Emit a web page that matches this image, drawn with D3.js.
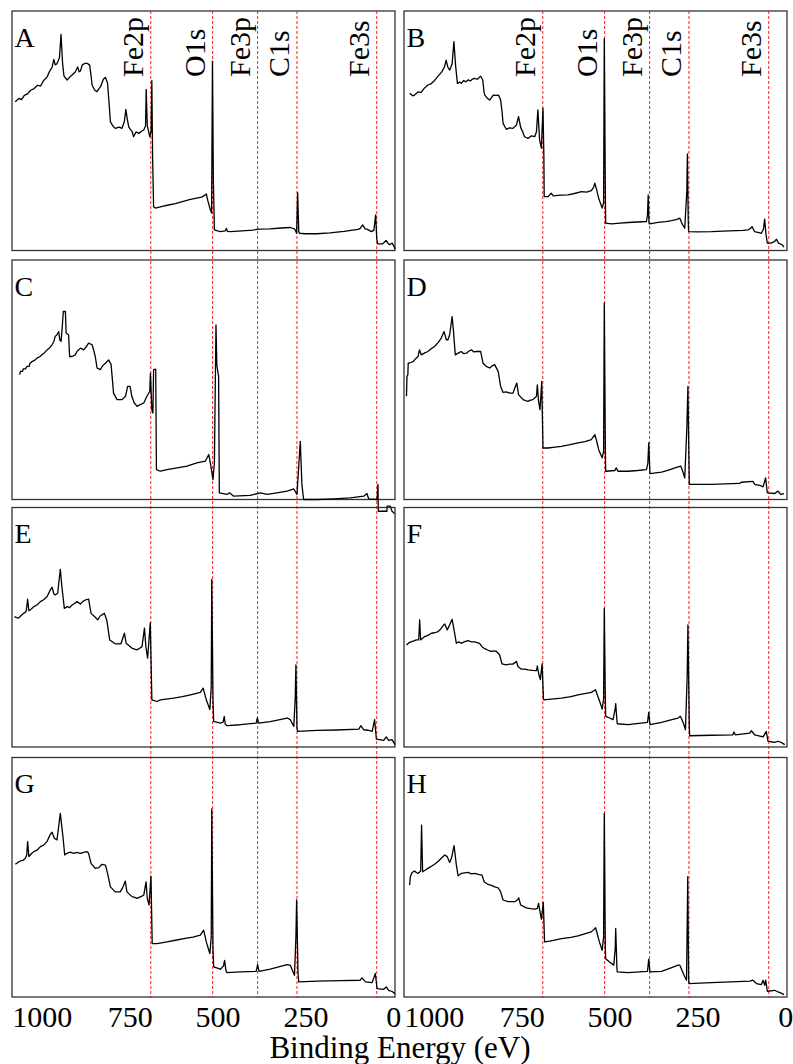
<!DOCTYPE html>
<html lang="en">
<head>
<meta charset="utf-8">
<title>XPS survey spectra A-H</title>
<style>
body{
  margin: 0;
  background: #fff;
}
svg text{
  font-family: "Liberation Serif", "Times New Roman", serif;
  fill: #000;
}
.frame{
  fill: none;
  stroke: #333;
  stroke-width: 1.3;
}
.spec{
  fill: none;
  stroke: #000;
  stroke-width: 1.3;
  stroke-linejoin: round;
}
.ref{
  stroke: #ff1a1a;
  stroke-width: 1;
  stroke-dasharray: 3,2;
}
.axis path, .axis line{
  display: none;
}
.axis text{
  font-size: 30px;
}
</style>
</head>
<body>
<div id="chart"></div>
<script src="https://cdn.jsdelivr.net/npm/d3@7/dist/d3.min.js"></script>
<script>
// panel letters, reference lines and axis ticks
var panelNames = ["A", "B", "C", "D", "E", "F", "G", "H"];
var peakNames = ["Fe2p", "O1s", "Fe3p", "C1s", "Fe3s"];
var peakEnergies = [690, 514, 386, 274, 47];
var xTicks = [1000, 750, 500, 250, 0];

// spectra: [binding energy (eV), intensity (a.u., 0-100 of panel)]
var specA = [[1076,62.1],[1065,63.5],[1058,63.0],[1050,64.8],[1040,65.5],[1032,66.9],[1023,67.5],[1012,69.0],[1004,68.6],[995,71.0],[985,72.5],[978,74.8],[971,76.5],[966,79.8],[962,77.5],[957,78.0],[950,80.5],[945.5,90.2],[941,78],[937,72.8],[928,71.2],[920,72.5],[914,73.3],[905,74.5],[898,76.7],[894,74.6],[890,75.0],[885,77.5],[878,78.1],[870,78.1],[864,77.4],[860,73],[857,69.1],[850,67.0],[843,66.3],[838,67.5],[833,68.4],[825,71.5],[819,72.3],[813,69.8],[808,60],[805,53.8],[798,52.0],[791,51.0],[780,51.5],[772,51.0],[765,54],[761,58.9],[757,55],[753,51.7],[748,50.5],[743,49.6],[739,47.5],[732,49.5],[724,48.9],[716,49.8],[710,50.3],[705,52],[703,67.3],[700,52],[697,50.3],[693,47.5],[689,50],[687,70.9],[685,40],[682,18.3],[677,17.7],[660,18.3],[640,19.0],[620,19.6],[600,20.4],[580,21.2],[560,21.9],[545,22.3],[537,23.0],[532,23.6],[528,21],[522,17.7],[517,15.6],[514.5,79.1],[512,30],[509,8.6],[500,8.2],[492,7.9],[478,8.2],[475,9.2],[472,8.0],[464,7.9],[430,8.2],[400,8.5],[383,8.9],[350,9.0],[320,9.4],[293,9.6],[280,8.9],[275,7.2],[272,24.2],[269,8],[267,7.2],[250,7.0],[217,7.0],[180,7.4],[140,8.0],[100,8.8],[94,9.2],[87,10.7],[80,9.0],[75,8.9],[62,7.9],[55,8.5],[50,14.9],[47,5],[44,2.8],[30,2.8],[27,3.2],[20,4.2],[15,3.0],[10,2.4],[3,3.1],[-3,1.5],[-5,0.6]];

var specB = [[1069,65.6],[1060,64.6],[1055,64.9],[1045,66.2],[1036,66.0],[1027,67.8],[1017,69.1],[1008,69.6],[998,71.0],[988,72.8],[978,74.5],[970,76.6],[965,79.5],[960,76.5],[955,75.3],[948,78],[943,87.2],[938,77],[933,69.8],[927,70.3],[922,69.8],[915,71.0],[909,70.4],[903,71.2],[896,70.8],[890,71.6],[884,71.9],[876,71.5],[867,72.8],[861,71.2],[857,66],[855,64.9],[848,63.6],[841,62.8],[836,63.8],[831,64.9],[823,64.8],[816,64.9],[810,62.8],[806,58],[803,53.1],[794,50.6],[785,51.2],[775,51.0],[765,52.4],[759,55.9],[753,51.4],[747,49.5],[742,47.5],[732,46.8],[722,47.9],[713,47.5],[708,49.6],[704,58.7],[699,46.1],[694,42.7],[689.5,59.4],[687,40],[686,22.5],[675,22.5],[666,23.9],[660,22.8],[640,23.1],[618,23.2],[600,23.8],[580,24.6],[565,24.4],[552,25.0],[545,26.5],[542,28.1],[536,25],[531,21.8],[521,17.7],[517,20],[515,88.5],[512,25],[511,11.4],[495,11.1],[470,11.4],[447,11.7],[420,11.9],[395,12.1],[392,15],[390,23.2],[388,12],[387,11.1],[362,11.7],[340,12.1],[324,12.5],[310,12.9],[300,13.5],[293,11],[286,9.3],[280,25],[278.5,40.3],[276,12],[275,7.9],[250,7.8],[210,7.9],[160,8.2],[120,8.4],[106,8.6],[99,9.2],[94.5,10.0],[90,8.6],[87,7.9],[75,7.5],[68,7.2],[62,9],[58.5,13.1],[55,7],[51,3.1],[40,3.1],[30,3.8],[25,4.7],[19,3.1],[10,2.5],[3.5,1.4]];

var specC = [[1063,52.1],[1061,53.5],[1055,53.5],[1053,54.5],[1047,54.5],[1042,55.6],[1036,55.6],[1034,56.8],[1028,57.6],[1020,58.2],[1014,59.0],[1006,59.6],[1000,60.4],[993,61.2],[985,62.5],[978,63.3],[971,64.6],[966,66.0],[962,68.1],[957,68.8],[952,70.1],[949,66.7],[945.5,66.0],[943,70.1],[939,78.5],[933,78.5],[931,69.4],[924,68.8],[921,59.7],[914,59.7],[905,60.4],[899,62.0],[895,62.5],[890,63.2],[881,62.5],[873,63.9],[867,65.3],[857,64.6],[852,62.0],[848,59.7],[843,54.9],[834,54.2],[826,56.0],[819,56.9],[810,58.3],[803,56.3],[796,44.4],[786,41.7],[772,41.7],[762,43.1],[756,47.2],[749,47.2],[744,43.1],[737,40.3],[729,38.9],[720,39.6],[710,40.3],[701,43.1],[693,45.1],[691,52.8],[687,37.5],[684,36.1],[682,54.2],[676,54.4],[674,12.5],[663,11.8],[644,12.5],[615,13.2],[587,13.9],[559,15.3],[535,16.0],[525,18.8],[519,13.9],[513,8.3],[509,15.3],[504.5,72.9],[502,56],[497,51.4],[495,2.8],[473,2.1],[466,2.8],[454,1.4],[407,1.7],[378,2.8],[359,2.1],[331,2.8],[302,3.5],[283,4.4],[274,2.1],[264.5,24.3],[260,6.3],[255,0],[217,0],[170,0.3],[122,0.7],[84,1.4],[75,2.5],[70,0.3],[46,0],[43.5,6.3],[42.5,-4.9],[18,-4.9],[17.5,-2.8],[8.4,-2.8],[3.5,-4.9],[-5,-6]];

var specD = [[1078,43.1],[1076.5,51.4],[1074,52.1],[1073,56.9],[1066,57.2],[1059,57.6],[1052,58.8],[1045,59.7],[1041,62.5],[1036,60.4],[1026,61.2],[1017,61.8],[1007,63.0],[998,63.9],[988,65.5],[979,67.4],[971,70.1],[964.5,66.7],[960,66.7],[955,68.8],[948,76.4],[944.5,70.8],[939,60.4],[931,61.1],[922,61.8],[915,60.9],[907,61.1],[900,62.0],[893,62.5],[886,61.6],[879,61.8],[867,61.8],[860,56.9],[851,55.6],[841,54.9],[834,55.8],[827,56.3],[817,53.5],[810,47.2],[803,44.7],[794,44.9],[784,44.4],[775,44.4],[768,47.2],[764,48.6],[759,43.8],[746,41.7],[739,41.3],[732,41.0],[725,41.5],[718,41.7],[708,43.1],[705.5,47.9],[702,41.0],[698,37.5],[693,49.3],[689.5,21.5],[675,21.5],[655,21.9],[637,22.2],[612,22.9],[590,23.6],[570,24.2],[552,25.0],[542,27.1],[536,24],[531,20.8],[521,17.4],[517,20],[515,82.0],[512,22],[511,11.8],[485,12.1],[481,13.2],[476,11.8],[447,11.8],[420,12.1],[395,12.5],[391,15],[388.5,23.6],[385,10.8],[352,11.4],[330,12.4],[305,13.6],[297,13.9],[290,11],[286,9.0],[280,30],[277,47.2],[274,15],[273,6.3],[210,6.3],[130,6.7],[125,7.2],[92,7.6],[87,6.3],[70,5.8],[63,5.3],[56,9.0],[51,2.8],[30,2.5],[20.5,3.5],[13,2.1],[3.5,2.5]];

var specE = [[1078,54.4],[1072,54.0],[1066,53.8],[1059,54.9],[1052,55.8],[1046,56.4],[1044,57.2],[1040.5,61.7],[1037,56.9],[1030,57.6],[1023,58.6],[1014,59.3],[1004,60.7],[995,61.5],[985,62.8],[976,65.6],[971,66.7],[966,64.0],[962,63.5],[955,64.2],[947.5,74.2],[943,66.9],[936,57.9],[928.5,58.6],[921,58.2],[914,59.3],[907,59.9],[900,60.7],[890.5,59.7],[883,60.8],[876,61.4],[867,61.7],[860,55.8],[848,54.2],[841,53.1],[834,54.7],[822,55.8],[815,52.8],[807,44.7],[791,43.1],[775,43.1],[765,47.5],[760,43.3],[744,41.3],[736,40.9],[729,40.6],[722,41.2],[715,41.9],[708,49.6],[704,41.9],[699,37.1],[691.5,51.9],[687,19.7],[672,19.0],[663,19.7],[625,20.4],[600,21.0],[577,21.8],[549,22.8],[541,24.6],[532,19.7],[522,15.6],[518,25],[516.5,70.0],[513,20],[511,10.7],[492,10.0],[484,10.4],[481,12.8],[478,9.5],[473,8.9],[435,9.3],[390,10.0],[387,12.1],[383,10.0],[350,10.6],[302,12.1],[293,11.4],[283,8.6],[279,20],[277,34.3],[274,8],[272,6.5],[217,6.9],[160,7.1],[98,7.5],[92,8.9],[84,7.2],[72,7.0],[60,6.5],[53,11.4],[48,3.3],[27,2.8],[20,4.2],[13,2.8],[3.5,3.1],[-5,1.0]];

var specF = [[1078,42.6],[1071,43.5],[1064,44.0],[1057,44.3],[1050,44.7],[1043,44.7],[1040.5,53.1],[1037.5,44.7],[1032,45.4],[1026,46.1],[1017,46.6],[1007,47.5],[998,47.7],[988,48.2],[981,49.2],[974,50.6],[969,51.4],[962,48.9],[955,51.0],[948,53.3],[942.5,48.9],[936,43.3],[929,43.9],[922,43.3],[912,44.0],[903,44.4],[893,43.9],[884,43.9],[877,43.6],[870,43.3],[863,41.9],[857,41.2],[851,40.8],[843,40.2],[836,39.9],[829,40.1],[822,39.9],[813,38.5],[806,34.7],[794,34.3],[785,34.6],[775,34.6],[765,35.7],[760.5,33.6],[751,32.5],[741,32.5],[732,32.2],[720,32.0],[708,31.9],[705.5,33.9],[702,30.8],[697,28.1],[692,34.7],[688,20],[687,19.7],[666,20.0],[637,20.4],[610,21.0],[590,21.8],[552,22.8],[540,23.9],[528,19.0],[521,15.8],[517,20],[515,57.9],[512,20],[511,12.8],[500,12.1],[490,11.4],[484,16],[482.5,18.1],[479,11],[478,9.7],[447,9.3],[392,10.3],[388.5,14.4],[385,9.3],[352,10.3],[320,11.5],[305,12.1],[298.5,12.8],[290,10.0],[284,7.2],[279,30],[277,51.0],[273,8],[272,4.7],[210,4.9],[149,5.1],[146,6.3],[142,5.1],[101,5.8],[96.5,6.8],[87,5.1],[63,4.2],[54,6.5],[49,2.4],[30,1.9],[20.5,2.4],[10,1.8],[1.5,1.0]];

var specG = [[1075.5,55.4],[1068,56.2],[1061,56.8],[1054,57.0],[1047,57.9],[1043,59.3],[1040.5,64.9],[1037,58.6],[1030,59.8],[1023,60.7],[1014,61.3],[1004,62.8],[995,63.4],[985,65.0],[976,67.9],[971,68.8],[964.5,66.3],[957,65.6],[947.5,76.7],[940,67.0],[935,59.3],[928.5,60.0],[919,60.5],[909.5,60.0],[900,60.4],[890.5,60.0],[881,60.4],[871.5,60.7],[867,60.0],[860,55.8],[848,53.7],[838,54.0],[829,55.4],[819,55.1],[813,51.6],[805,46.0],[791,43.9],[777,43.9],[769,46.0],[762.5,48.4],[758,43.9],[743.5,41.9],[736,41.6],[729,41.2],[720,41.8],[710,42.5],[703.5,48.1],[700,41.2],[695,38.4],[689.5,50.5],[686,22.3],[672,22.3],[644,23.0],[620,23.7],[596,24.4],[570,25.0],[549,25.8],[539.5,27.9],[532,23.0],[522,18.1],[518,25],[516.5,78.5],[513,20],[511,12.6],[492,11.6],[483,13],[480,15.3],[476,11],[473,10.2],[435,10.5],[390,10.7],[386,13.5],[382,10.7],[350,11.6],[302,13.5],[293,13.3],[281,9.1],[277,25],[275,40.5],[271,10],[269,6.3],[217,6.6],[150,6.8],[94,7.0],[89,8.0],[79,6.3],[60,6.0],[51,9.8],[46,3.5],[27,3.2],[20,4.2],[13,2.8],[3,2.3],[-5,1.4]];

var specH = [[1069,46.7],[1067,50.2],[1062,52.0],[1055,52.6],[1050,52.0],[1045,51.6],[1037.5,52.6],[1035,71.8],[1032,52.3],[1024,53.0],[1017,53.7],[1007,54.6],[998,55.4],[988,56.6],[979,57.9],[969,59.3],[962,58.6],[955,56.2],[950,57.9],[942.5,63.2],[936,55.1],[931,50.6],[922,51.6],[912,51.8],[903,52.0],[893,51.4],[884,51.6],[873,51.2],[863,50.9],[857,48.1],[846,47.0],[836,46.6],[827,46.0],[817,45.6],[810,43.9],[803,40.5],[789,39.8],[770,39.8],[762.5,40.5],[758.5,41.4],[753,38.4],[737,37.2],[725,36.9],[713,36.7],[705.5,37.0],[702,39.1],[698,35.6],[694,32.5],[688.5,39.5],[685,23.0],[670,23.3],[637,24.4],[610,24.9],[590,25.5],[552,27.2],[539.5,28.9],[529,23.0],[521,19.5],[517,25],[515,76.7],[512,20],[511,16.0],[500,14.6],[488,13.3],[484,20],[482.5,28.6],[479,12],[478,10.5],[447,10.2],[392,10.7],[388.5,15.8],[385,10.5],[352,10.7],[325,12.2],[305,13.3],[300,13.3],[288,9.1],[281,7.0],[279,30],[277.5,50.2],[275,8],[274,5.6],[210,6.0],[101,6.6],[92,7.0],[82,5.6],[68,5.2],[63,7.0],[58.5,4.9],[55.5,7.0],[51,2.4],[30,2.8],[20.5,2.1],[10,1.5],[3.5,1.0]];

var spectra = [specA, specB, specC, specD, specE, specF, specG, specH];

// layout
var colLeft = [12, 404];
var panelW = 383;
var rowTop = [11, 260, 507.5, 757.5];
var panelH = 239.5;
var plotBottom = rowTop[3] + panelH;

var svg = d3.select("#chart").append("svg")
  .attr("width", 793)
  .attr("height", 1064);

var xScales = colLeft.map(function(left) {
  return d3.scaleLinear().domain([1085, -5]).range([left, left + panelW]);
});

// red dashed reference lines through each column
xScales.forEach(function(x) {
  svg.append("g").selectAll("line").data(peakEnergies)
    .enter().append("line")
    .attr("class", "ref")
    .attr("x1", function(d) { return x(d); })
    .attr("x2", function(d) { return x(d); })
    .attr("y1", rowTop[0])
    .attr("y2", plotBottom);
});

var line = d3.line();

spectra.forEach(function(data, i) {
  var col = i % 2, row = Math.floor(i / 2);
  var x = xScales[col];
  var y = d3.scaleLinear().domain([0, 100]).range([rowTop[row] + panelH, rowTop[row]]);

  svg.append("rect")
    .attr("class", "frame")
    .attr("x", x.range()[0])
    .attr("y", rowTop[row])
    .attr("width", panelW)
    .attr("height", panelH);

  svg.append("path")
    .attr("class", "spec")
    .attr("d", line.x(function(d) { return x(d[0]); }).y(function(d) { return y(d[1]); })(data));

  svg.append("text")
    .attr("x", x.range()[0] + 2.5)
    .attr("y", rowTop[row] + 35.5)
    .style("font-size", "28px")
    .text(panelNames[i]);

  // peak labels only on the top row
  if (row === 0) {
    svg.append("g").selectAll("text").data(peakEnergies)
      .enter().append("text")
      .attr("transform", function(d) { return "translate(" + (x(d) - 8) + ",77) rotate(-90)"; })
      .style("font-size", "30px")
      .text(function(d, k) { return peakNames[k]; });
  }
});

// bottom axes
xScales.forEach(function(x) {
  svg.append("g")
    .attr("class", "axis")
    .attr("transform", "translate(0," + plotBottom + ")")
    .call(d3.axisBottom(x).tickValues(xTicks).tickSize(0).tickPadding(9).tickFormat(d3.format("d")));
});

svg.append("text")
  .attr("x", 400)
  .attr("y", 1058)
  .attr("text-anchor", "middle")
  .style("font-size", "31px")
  .text("Binding Energy (eV)");
</script>
</body>
</html>
